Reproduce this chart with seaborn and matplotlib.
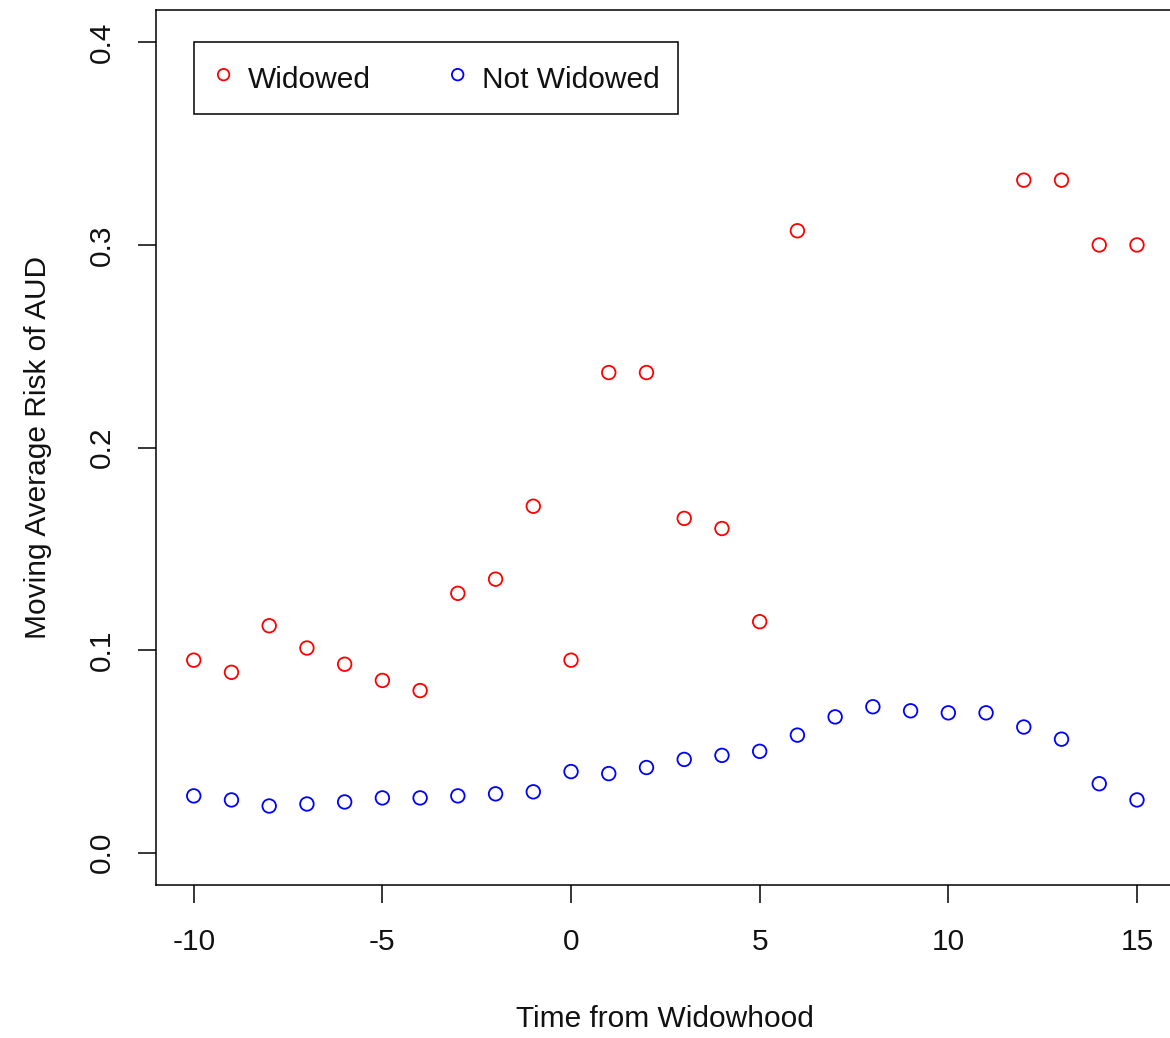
import numpy as np
import pandas as pd
import matplotlib
matplotlib.use("Agg")
import matplotlib.pyplot as plt
import seaborn as sns

# values
time = list(range(-10, 16))
widowed = [0.095, 0.089, 0.112, 0.101, 0.093, 0.085, 0.080, 0.128, 0.135, 0.171,
           0.095, 0.237, 0.237, 0.165, 0.160, 0.114, 0.307,
           np.nan, np.nan, np.nan, np.nan, np.nan,
           0.332, 0.332, 0.300, 0.300]
not_widowed = [0.028, 0.026, 0.023, 0.024, 0.025, 0.027, 0.027, 0.028, 0.029, 0.030,
               0.040, 0.039, 0.042, 0.046, 0.048, 0.050, 0.058, 0.067, 0.072, 0.070,
               0.069, 0.069, 0.062, 0.056, 0.034, 0.026]
xticks = [-10, -5, 0, 5, 10, 15]
yticks = [0.0, 0.1, 0.2, 0.3, 0.4]

df = pd.DataFrame({"time": time, "widowed": widowed, "not_widowed": not_widowed})

sns.set_theme(style="ticks")
plt.rcParams["font.family"] = ["Liberation Sans", "DejaVu Sans"]
plt.rcParams["text.color"] = "#111111"
plt.rcParams["xtick.color"] = "#111111"
plt.rcParams["ytick.color"] = "#111111"
plt.rcParams["axes.labelcolor"] = "#111111"

fs = 21.5
fig = plt.figure(figsize=(11.7, 10.38), dpi=100)
ax = fig.add_axes([156 / 1170, 1 - 885 / 1038, (1174.7 - 156) / 1170, (885 - 10) / 1038])

sns.scatterplot(data=df, x="time", y="widowed", ax=ax, marker="o", s=95,
                facecolors="none", edgecolor="#ff0000", linewidth=1.3, label="Widowed")
sns.scatterplot(data=df, x="time", y="not_widowed", ax=ax, marker="o", s=95,
                facecolors="none", edgecolor="#0000ff", linewidth=1.3, label="Not Widowed")

ax.set_xlim(-11, 16)
ax.set_ylim(-0.016, 0.416)
ax.set_xticks(xticks)
ax.set_yticks(yticks)
ax.set_xticklabels([str(t) for t in xticks], fontsize=fs)
ax.set_yticklabels([f"{t:.1f}" for t in yticks], fontsize=fs, rotation=90, va="center")
ax.tick_params(axis="both", direction="out", length=13, width=1.1, color="black")
ax.tick_params(axis="x", pad=18)
ax.tick_params(axis="y", pad=16)

for sp in ax.spines.values():
    sp.set_visible(True)
    sp.set_color("black")
    sp.set_linewidth(1.1)

ax.set_xlabel("Time from Widowhood", fontsize=fs, labelpad=35)
ax.set_ylabel("Moving Average Risk of AUD", fontsize=fs, labelpad=26)

leg = ax.legend(loc="upper left", bbox_to_anchor=(-10, 0.4), bbox_transform=ax.transData,
                ncol=2, fontsize=fs, frameon=True, fancybox=False, framealpha=1,
                borderaxespad=0, borderpad=0.6, handlelength=0.8, handleheight=1.45,
                handletextpad=0.42, columnspacing=2.5, markerscale=0.85)
leg.get_frame().set_edgecolor("black")
leg.get_frame().set_linewidth(1.1)

fig.savefig("out.png", dpi=100)
